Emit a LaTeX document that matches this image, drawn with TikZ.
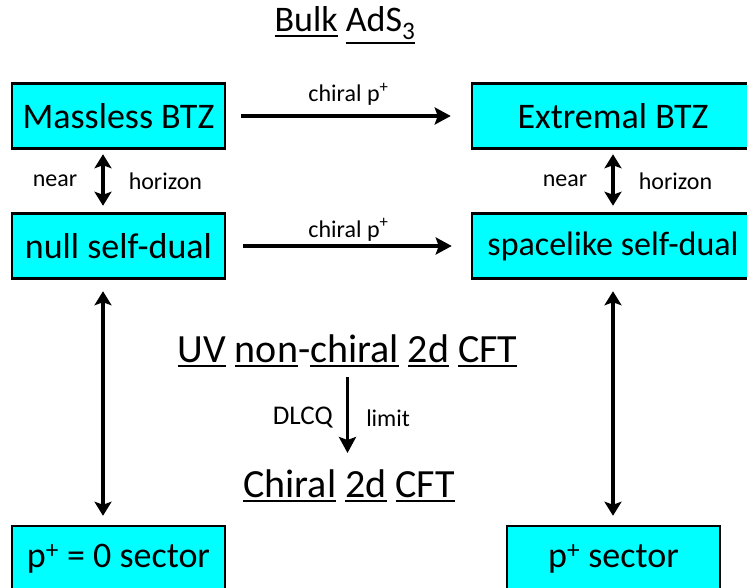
\documentclass[tikz,border=0pt]{standalone}
\usepackage{fontspec}
\usepackage{xcolor}
\setmainfont{Carlito}
\usetikzlibrary{arrows.meta}

\definecolor{boxcyan}{RGB}{0,255,255}
\newsavebox{\ulbox}
% underline one word, below its depth
\newcommand{\ulw}[1]{\sbox{\ulbox}{#1}\rlap{\rule[\dimexpr-\dp\ulbox-4.3pt\relax]{\wd\ulbox}{1.8pt}}\usebox{\ulbox}}

\begin{document}
\begin{tikzpicture}[x=1pt, y=-1pt,
  box/.style={rectangle, draw, line width=2.5pt, fill=boxcyan, minimum height=65pt, inner sep=0pt, font=\fontsize{36}{40}\selectfont},
  narrowbox/.style={box, minimum width=213pt},
  widebox/.style={box, minimum width=282pt},
  big/.style={inner sep=0pt, font=\fontsize{36}{40}\selectfont},
  cft/.style={inner sep=0pt, font=\fontsize{40}{44}\selectfont},
  lbl/.style={inner sep=0pt, font=\fontsize{24}{28}\selectfont},
  arr/.style={-{Stealth[length=16pt,width=17pt,inset=3pt]}, line width=3.5pt},
  dblarr/.style={{Stealth[length=14pt,width=17pt,inset=3pt]}-{Stealth[length=14pt,width=17pt,inset=3pt]}, line width=3.5pt}]
\useasboundingbox (0,0) rectangle (747,588);
\clip (0,0) rectangle (747,588);

\node[big, anchor=base] (title) at (345,32) {\ulw{Bulk} \ulw{AdS\textsubscript{3}}};

\node[narrowbox] (massless) at (118.5,116) {Massless BTZ};
\node[widebox] (extremal) at (613,116) {Extremal BTZ};
\node[narrowbox] (nullsd) at (118.5,246) {null self-dual};
\node[widebox, font=\fontsize{34}{40}\selectfont] (spacesd) at (613,246) {spacelike self-dual};
\node[narrowbox] (pzero) at (118.5,558.5) {p\textsuperscript{+} = 0 sector};
\node[narrowbox] (psector) at (613.5,558.5) {p\textsuperscript{+} sector};

\node[cft, anchor=base] (uv) at (347.5,362) {\ulw{UV} \ulw{non}-\ulw{chiral} \ulw{2d} \ulw{CFT}};
\node[cft, anchor=base] (chiralcft) at (349,497) {\ulw{Chiral} \ulw{2d} \ulw{CFT}};

\draw[arr, shorten <=15pt, shorten >=20pt] (massless.east) -- node[lbl, anchor=base, yshift=14pt] {chiral p\textsuperscript{+}} (extremal.west);
\draw[arr, shorten <=17pt, shorten >=19pt] (nullsd.east) -- node[lbl, anchor=base, yshift=9pt] {chiral p\textsuperscript{+}} (spacesd.west);

\draw[dblarr, shorten <=4.5pt, shorten >=6.5pt] ([xshift=-15.5pt]massless.south) -- node[lbl, left=24pt] {near} node[lbl, right=24pt] {horizon} ([xshift=-15.5pt]nullsd.north);
\draw[dblarr, shorten <=4.5pt, shorten >=6.5pt] (extremal.south) -- node[lbl, left=24pt] {near} node[lbl, right=24pt] {horizon} (spacesd.north);

\draw[dblarr, shorten <=11.5pt, shorten >=9pt] ([xshift=-15.5pt]nullsd.south) -- ([xshift=-15.5pt]pzero.north);
\draw[dblarr, shorten <=11.5pt, shorten >=9pt] (spacesd.south) -- (spacesd.south |- psector.north);

\draw[arr, shorten <=10.5pt, shorten >=16pt] (uv.south) -- node[lbl, left=13pt, font=\fontsize{27}{30}\selectfont] {DLCQ} node[lbl, right=17pt] {limit} (uv.south |- chiralcft.north);
\end{tikzpicture}
\end{document}
